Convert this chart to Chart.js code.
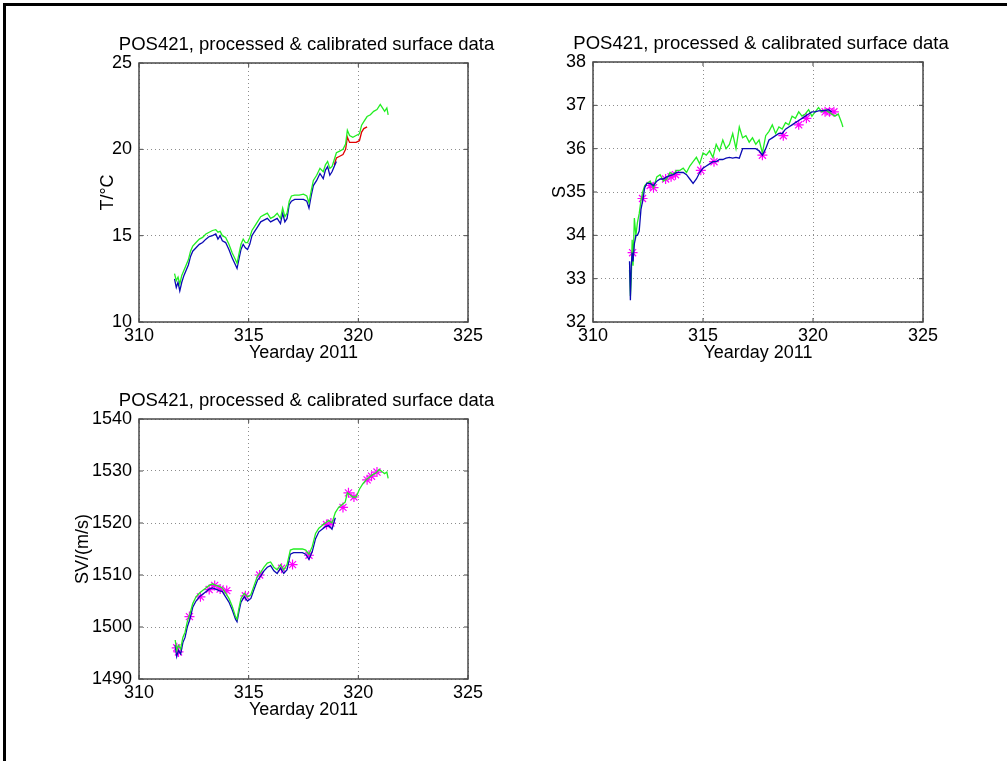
<!DOCTYPE html>
<html>
<head>
<meta charset="utf-8">
<script src="https://cdn.jsdelivr.net/npm/chart.js@4.4.1/dist/chart.umd.min.js"></script>
<style>
  html, body { margin: 0; padding: 0; background: #fff; overflow: hidden; }
  #frame { position: absolute; left: 3px; top: 3px; width: 1010px; height: 770px;
           border-top: 3px solid #000; border-left: 3px solid #000; }
  canvas { position: absolute; }
</style>
</head>
<body>
<div id="frame"></div>
<canvas id="chart_t" width="439" height="342" style="left:69px;top:30px"></canvas>
<canvas id="chart_s" width="440" height="343" style="left:523px;top:29px"></canvas>
<canvas id="chart_sv" width="439" height="343" style="left:69px;top:386px"></canvas>
<script>
console.log('Loading: pos421 surface plots');

/* Assigning variables */
const chart_title = 'POS421, processed & calibrated surface data';
const x_title = 'Yearday 2011';
const x_ticks = [310, 315, 320, 325];

/* temperature panel */
const t_days = [311.62, 311.70, 311.78, 311.86, 311.95, 312.05, 312.15, 312.25, 312.35, 312.45,
    312.6, 312.75, 312.9, 313.05, 313.2, 313.35, 313.5, 313.6, 313.7, 313.8,
    313.95, 314.1, 314.25, 314.4, 314.47, 314.55, 314.65, 314.75, 314.85, 314.95,
    315.05, 315.15, 315.25, 315.4, 315.55, 315.7, 315.85, 316.0, 316.15, 316.3,
    316.45, 316.55, 316.65, 316.75, 316.85, 316.95, 317.1, 317.3, 317.5, 317.65,
    317.75, 317.85, 317.95, 318.1, 318.25, 318.4, 318.5, 318.6, 318.7, 318.8,
    318.9, 319.0, 319.15, 319.3, 319.42, 319.5, 319.6, 319.75, 319.9, 320.05,
    320.15, 320.25, 320.4, 320.55, 320.7, 320.85, 321.0, 321.1, 321.2, 321.3, 321.36];
const t_calibrated = [12.8, 12.4, 12.6, 12.2, 12.7, 13.0, 13.3, 13.6, 14.1, 14.4,
    14.6, 14.8, 14.9, 15.1, 15.2, 15.3, 15.35, 15.2, 15.25, 15.0,
    14.9, 14.5, 14.0, 13.6, 13.4, 13.9, 14.5, 14.8, 14.6, 14.6,
    14.9, 15.3, 15.5, 15.8, 16.1, 16.2, 16.3, 16.0, 16.1, 16.3,
    16.0, 16.6, 16.1, 16.3, 17.0, 17.3, 17.35, 17.35, 17.4, 17.3,
    16.9, 17.6, 18.2, 18.5, 18.9, 18.7, 19.1, 19.3, 18.9, 19.0,
    19.4, 19.8, 19.9, 20.0, 20.3, 21.1, 20.8, 20.7, 20.8, 20.9,
    21.4, 21.6, 21.9, 22.0, 22.2, 22.3, 22.6, 22.4, 22.2, 22.4, 22.0];
const t_processed = [12.5, 12.0, 12.3, 11.8, 12.3, 12.7, 13.0, 13.3, 13.8, 14.1,
    14.3, 14.5, 14.6, 14.8, 14.95, 15.0, 15.1, 14.8, 15.0, 14.7,
    14.6, 14.2, 13.7, 13.3, 13.1, 13.6, 14.2, 14.5, 14.3, 14.2,
    14.5, 15.0, 15.2, 15.5, 15.8, 15.9, 16.0, 15.8, 15.9, 16.0,
    15.7, 16.3, 15.8, 16.0, 16.8, 17.0, 17.1, 17.1, 17.1, 17.0,
    16.6, 17.3, 17.9, 18.2, 18.6, 18.3, 18.8, 19.0, 18.5, 18.7,
    19.0, 19.3, null, null, null, null, null, null, null, null,
    null, null, null, null, null, null, null, null, null, null, null];
const t_raw = [null, null, null, null, null, null, null, null, null, null,
    null, null, null, null, null, null, null, null, null, null,
    null, null, null, null, null, null, null, null, null, null,
    null, null, null, null, null, null, null, null, null, null,
    null, null, null, null, null, null, null, null, null, null,
    null, null, null, null, null, null, null, null, null, null,
    19.1, 19.5, 19.6, 19.7, 20.0, 20.7, 20.4, 20.4, 20.4, 20.5,
    21.0, 21.2, 21.3, null, null, null, null, null, null, null, null];

/* salinity panel */
const s_days = [311.66, 311.70, 311.74, 311.78, 311.82, 311.88, 311.95, 312.02, 312.1, 312.18,
    312.26, 312.35, 312.45, 312.6, 312.75, 312.9, 313.05, 313.2, 313.35, 313.5,
    313.65, 313.8, 313.95, 314.1, 314.25, 314.4, 314.55, 314.7, 314.85, 315.0,
    315.15, 315.3, 315.45, 315.6, 315.75, 315.9, 316.05, 316.2, 316.35, 316.5,
    316.65, 316.8, 316.95, 317.1, 317.25, 317.4, 317.55, 317.7, 317.85, 318.0,
    318.15, 318.3, 318.45, 318.6, 318.75, 318.9, 319.05, 319.2, 319.35, 319.5,
    319.65, 319.8, 319.95, 320.1, 320.25, 320.4, 320.55, 320.7, 320.85, 321.0,
    321.15, 321.3, 321.36];
const s_processed = [33.4, 32.5, 33.3, 33.6, 33.4, 33.8, 34.0, 34.0, 34.1, 34.6,
    34.8, 35.1, 35.2, 35.2, 35.15, 35.25, 35.3, 35.3, 35.35, 35.38,
    35.4, 35.45, 35.45, 35.45, 35.4, 35.3, 35.2, 35.3, 35.45, 35.55,
    35.6, 35.65, 35.7, 35.7, 35.75, 35.75, 35.78, 35.8, 35.78, 35.8,
    35.78, 36.0, 36.0, 36.0, 36.0, 36.0, 35.95, 35.85, 36.0, 36.2,
    36.25, 36.3, 36.35, 36.35, 36.45, 36.5, 36.55, 36.6, 36.65, 36.7,
    36.75, 36.8, 36.85, 36.85, 36.87, 36.88, 36.88, 36.9, 36.85, null,
    null, null, null];
const s_calibrated = [33.2, 32.6, 33.0, 33.9, 33.3, 34.4, 34.0, 34.3, 34.5, 34.8,
    35.0, 35.15, 35.2, 35.25, 35.1, 35.35, 35.4, 35.25, 35.3, 35.45,
    35.4, 35.5, 35.5, 35.55, 35.45, 35.6, 35.7, 35.8, 35.65, 35.9,
    35.85, 35.95, 35.8, 36.1, 35.95, 36.2, 36.0, 36.1, 36.35, 36.0,
    36.5, 36.25, 36.3, 36.15, 36.25, 36.1, 36.2, 35.9, 36.3, 36.4,
    36.55, 36.35, 36.5, 36.45, 36.6, 36.55, 36.75, 36.7, 36.85, 36.75,
    36.8, 36.9, 36.75, 36.85, 36.95, 36.85, 36.9, 36.85, 36.8, 36.75,
    36.8, 36.6, 36.5];
const s_bottle_days = [311.8, 312.25, 312.6, 312.75, 313.3, 313.55, 313.75, 314.9, 315.5, 317.7,
    318.65, 319.35, 319.7, 320.55, 320.75, 320.95];
const s_bottle = [33.6, 34.85, 35.15, 35.1, 35.3, 35.35, 35.4, 35.5, 35.7, 35.85,
    36.3, 36.55, 36.7, 36.85, 36.85, 36.85];

/* sound velocity panel */
const sv_days = [311.65, 311.72, 311.8, 311.9, 312.0, 312.1, 312.2, 312.32, 312.45, 312.6,
    312.75, 312.9, 313.05, 313.2, 313.35, 313.5, 313.65, 313.8, 313.95, 314.1,
    314.25, 314.4, 314.47, 314.55, 314.65, 314.8, 314.95, 315.1, 315.25, 315.4,
    315.55, 315.7, 315.85, 316.0, 316.15, 316.3, 316.45, 316.6, 316.75, 316.9,
    317.05, 317.25, 317.45, 317.6, 317.75, 317.9, 318.05, 318.2, 318.35, 318.5,
    318.65, 318.8, 318.95, 319.1, 319.25, 319.4, 319.5, 319.6, 319.75, 319.9,
    320.05, 320.2, 320.35, 320.5, 320.65, 320.8, 320.95, 321.1, 321.2, 321.3, 321.36];
const sv_calibrated = [1497.5, 1495.5, 1496.5, 1495.8, 1498.0, 1499.0, 1501.0, 1502.5, 1504.5, 1505.8,
    1506.5, 1507.0, 1507.5, 1508.0, 1508.3, 1508.0, 1507.8, 1507.5, 1506.5, 1505.5,
    1504.0, 1502.0, 1501.5, 1503.5, 1505.5, 1506.5, 1505.8, 1506.2, 1508.0, 1509.8,
    1510.5, 1511.5, 1512.3, 1512.5, 1511.5, 1511.0, 1512.0, 1511.0, 1512.0, 1514.8,
    1515.0, 1515.0, 1515.0, 1514.8, 1514.0, 1515.5, 1518.0, 1519.0, 1519.5, 1520.0,
    1520.5, 1520.0, 1522.0, 1523.0, 1523.5, 1524.0, 1525.8, 1525.5, 1525.0, 1525.0,
    1526.5, 1527.5, 1528.3, 1528.8, 1529.3, 1529.6, 1530.3, 1529.8, 1529.5, 1529.8, 1528.6];
const sv_processed = [1496.5, 1494.3, 1495.5, 1494.8, 1497.0, 1498.0, 1500.0, 1501.5, 1503.8, 1505.0,
    1505.8, 1506.3, 1506.8, 1507.3, 1507.5, 1507.3, 1507.0, 1506.8, 1505.8, 1504.8,
    1503.3, 1501.5, 1501.0, 1502.8, 1504.8, 1505.8, 1505.0, 1505.5, 1507.3, 1509.0,
    1509.8, 1510.8, 1511.5, 1511.8, 1510.8, 1510.3, 1511.3, 1510.3, 1511.0, 1514.0,
    1514.3, 1514.3, 1514.3, 1514.0, 1513.0, 1514.5, 1517.0, 1518.3, 1518.8, 1519.3,
    1519.5, 1518.8, 1521.0, null, null, null, null, null, null, null,
    null, null, null, null, null, null, null, null, null, null, null];
const sv_bottle_days = [311.72, 311.8, 312.3, 312.8, 313.2, 313.45, 313.7, 314.0, 314.85, 315.5,
    316.5, 317.0, 317.75, 318.55, 318.75, 319.3, 319.55, 319.8, 320.4, 320.6, 320.85];
const sv_bottle = [1496.0, 1495.2, 1502.0, 1505.8, 1507.2, 1508.0, 1507.3, 1507.0, 1506.0, 1510.0,
    1511.3, 1512.0, 1513.8, 1519.7, 1520.0, 1523.0, 1525.8, 1525.0, 1528.3, 1529.0, 1529.8];

const font_family = "'Liberation Sans', Arial, sans-serif";

/* Assigning functions */
function toPoints(days, values) {
    return days.map((d, i) => ({ x: d, y: values[i] }));
}

function lineSet(days, values, colour) {
    return {
        data: toPoints(days, values),
        showLine: true,
        borderColor: colour,
        borderWidth: 1.3,
        pointRadius: 0,
        spanGaps: false
    };
}

function bottleSet(days, values) {
    return {
        data: toPoints(days, values),
        showLine: false,
        pointStyle: 'star',
        pointRadius: 5,
        borderColor: '#ff00ff',
        borderWidth: 1.2,
        backgroundColor: '#ff00ff'
    };
}

// matlab style box with inward ticks, plus a title centred over the axes
const boxPlugin = {
    id: 'matlabBox',
    afterDraw(chart) {
        const { ctx, chartArea: a, scales } = chart;
        ctx.save();
        ctx.strokeStyle = '#4a4a4a';
        ctx.lineWidth = 1.5;
        ctx.strokeRect(a.left, a.top, a.right - a.left, a.bottom - a.top);
        ctx.lineWidth = 1;
        ctx.beginPath();
        scales.x.ticks.forEach(t => {
            const px = scales.x.getPixelForValue(t.value);
            ctx.moveTo(px, a.bottom); ctx.lineTo(px, a.bottom - 4);
            ctx.moveTo(px, a.top); ctx.lineTo(px, a.top + 4);
        });
        scales.y.ticks.forEach(t => {
            const py = scales.y.getPixelForValue(t.value);
            ctx.moveTo(a.left, py); ctx.lineTo(a.left + 4, py);
            ctx.moveTo(a.right, py); ctx.lineTo(a.right - 4, py);
        });
        ctx.stroke();

        ctx.fillStyle = '#000';
        ctx.font = '18.5px ' + font_family;
        ctx.textAlign = 'center';
        ctx.textBaseline = 'middle';
        ctx.fillText(chart_title, (a.left + a.right) / 2 + 3, a.top - 18);
        ctx.restore();
    }
};

function createChart(id, datasets, y_min, y_max, y_step, y_title, y_title_pad) {
    return new Chart(id, {
        type: 'scatter',
        data: { datasets: datasets },
        options: {
            responsive: false,
            animation: false,
            devicePixelRatio: 1,
            layout: { padding: { left: 0, right: 40, top: 33, bottom: 5 } },
            plugins: {
                legend: { display: false },
                tooltip: { enabled: false },
                title: { display: false }
            },
            scales: {
                x: {
                    type: 'linear',
                    min: 310, max: 325,
                    afterFit: s => { s.height = 45; },
                    afterBuildTicks: s => { s.ticks = x_ticks.map(v => ({ value: v })); },
                    ticks: { color: '#000', padding: 3, font: { family: font_family, size: 18 } },
                    grid: { color: '#8c8c8c', drawTicks: false },
                    border: { display: false, dash: [1, 3] },
                    title: {
                        display: true, text: x_title, color: '#000',
                        font: { family: font_family, size: 18 },
                        padding: { top: 0, bottom: 3 }
                    }
                },
                y: {
                    type: 'linear',
                    min: y_min, max: y_max,
                    afterFit: s => { s.width = 70; },
                    ticks: {
                        stepSize: y_step, color: '#000', padding: 7,
                        font: { family: font_family, size: 18 },
                        callback: v => String(v)
                    },
                    grid: { color: '#8c8c8c', drawTicks: false },
                    border: { display: false, dash: [1, 3] },
                    title: {
                        display: true, text: y_title, color: '#000',
                        font: { family: font_family, size: 18 },
                        padding: { top: y_title_pad, bottom: 0 }
                    }
                }
            }
        },
        plugins: [boxPlugin]
    });
}

/* Start of the script */
createChart('chart_t', [
    lineSet(t_days, t_calibrated, '#22ee22'),
    lineSet(t_days, t_processed, '#0a0ab4'),
    lineSet(t_days, t_raw, '#e00000')
], 10, 25, 5, 'T/°C', 28);

createChart('chart_s', [
    lineSet(s_days, s_processed, '#0a0ab4'),
    lineSet(s_days, s_calibrated, '#22ee22'),
    bottleSet(s_bottle_days, s_bottle)
], 32, 38, 1, 'S', 26);

createChart('chart_sv', [
    lineSet(sv_days, sv_calibrated, '#22ee22'),
    lineSet(sv_days, sv_processed, '#0a0ab4'),
    bottleSet(sv_bottle_days, sv_bottle)
], 1490, 1540, 10, 'SV/(m/s)', 3);
</script>
</body>
</html>
